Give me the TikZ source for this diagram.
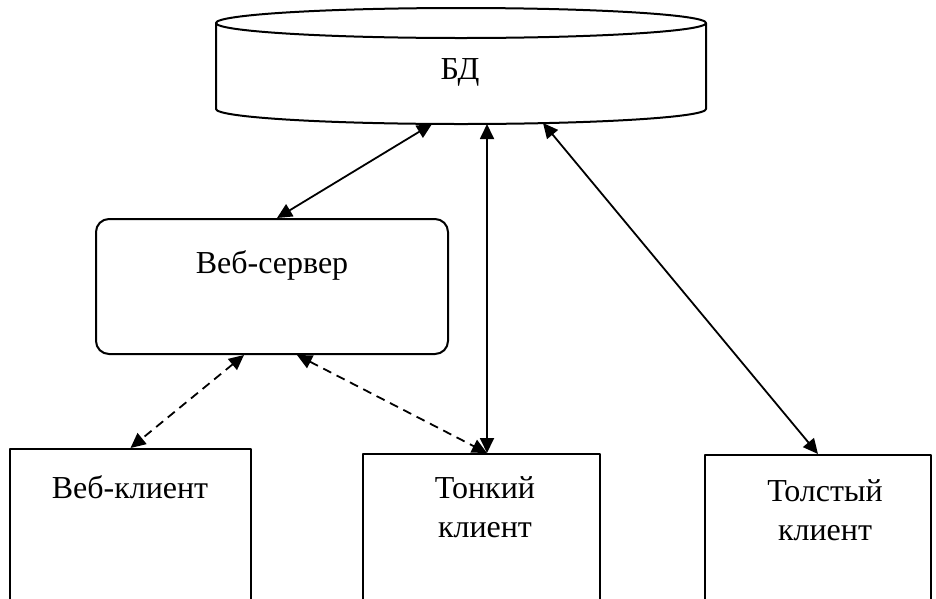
\documentclass[tikz,border=0pt]{standalone}
\usepackage{fontspec}
\setmainfont{Liberation Serif}
\usetikzlibrary{arrows.meta,calc}
\tikzset{
  box/.style={draw, line width=2pt, minimum width=#1, minimum height=175pt, anchor=north, inner sep=0pt},
  txt/.style={font=\fontsize{32}{39}\selectfont, align=center, inner sep=0pt, anchor=base},
  conn/.style={line width=1.8pt, {Triangle[length=15pt,width=14pt]}-{Triangle[length=15pt,width=14pt]}},
  dconn/.style={conn, dash pattern=on 9pt off 6pt}
}
\begin{document}
\begin{tikzpicture}[x=1pt, y=-1pt, line join=round]
	\useasboundingbox (0,0) rectangle (936,598);
	\clip (0,0) rectangle (936,598);
	\def\dbrx{245} % bán trục ngang
	\def\dbry{15} % bán trục dọc
	% БД
	\coordinate (dbc) at (461,23);
	\draw[line width=2pt] (216,23) -- (216,109) arc[start angle=180, end angle=0, x radius=\dbrx, y radius=\dbry] -- (706,23);
	\draw[line width=2pt] (dbc) ellipse[x radius=\dbrx, y radius=\dbry];
	\node[txt] (bd) at (460,79) {БД};
	\coordinate (db1) at (432,124);
	\coordinate (db2) at (487,124);
	\coordinate (db3) at (543,123);
	% Веб-сервер
	\node[draw, line width=2pt, rounded corners=13pt, minimum width=352pt, minimum height=135pt] (srv) at (272,286.5) {};
	\node[txt] (srvt) at (272,273) {Веб-сервер};
	% клиенты
	\node[box=241pt] (wcl) at (130.5,448) {};
	\node[box=237pt] (thin) at (481.5,453) {};
	\node[box=226pt] (fat) at (818,454) {};
	\node[txt] (wclt) at (130,498) {Веб-клиент};
	\node[txt] (thint) at (485,537) {Тонкий\\клиент};
	\node[txt] (fatt) at (825,540) {Толстый\\клиент};
	% связи
	\draw[conn] (db1) -- ($(srv.north)+(5,0)$);
	\draw[conn] (db2) -- ($(thin.north)+(5.5,0)$);
	\draw[conn] (db3) -- (fat.north);
	\draw[dconn] ($(srv.south)+(-28,0)$) -- (wcl.north);
	\draw[dconn] ($(srv.south)+(25,0)$) -- ($(thin.north)+(5.5,0)$);
\end{tikzpicture}
\end{document}
